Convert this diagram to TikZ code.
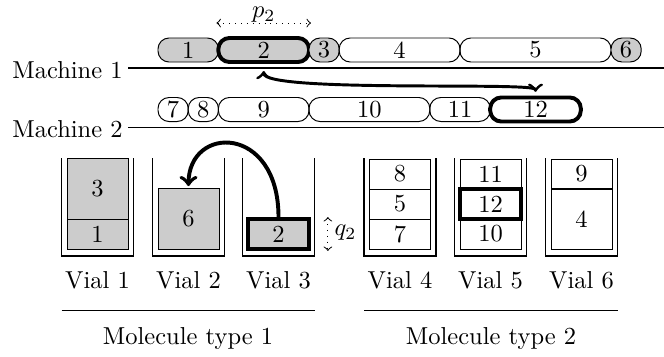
\documentclass[tikz,border=0pt]{standalone}
\usepackage{tikz, xcolor}
\usetikzlibrary{shapes,arrows}

\begin{document}
\begin{tikzpicture}[x=0.01435cm, y=-0.01435cm]
\tikzstyle{jobr}=[rectangle, rounded corners=4.5pt, draw, minimum height=9.8pt, inner sep=0pt]
\tikzstyle{jobg}=[jobr, fill=gray!40]
\tikzstyle{vialc}=[rectangle, draw, minimum width=24.9pt, inner sep=0pt]
\tikzstyle{hilite}=[ultra thick]
\tikzstyle{wallstyle}=[thick]
\tikzstyle{drawstyle}=[very thick, <->]
\tikzstyle{movestyle}=[ultra thick, ->]
\tikzstyle{dimstyle}=[dotted, <->]

\useasboundingbox (0,0) rectangle (664,356);

\node[anchor=east, inner sep=2pt] (M1) at (128,70) {Machine 1};
\coordinate (M1end) at (664,68);
\draw[thick] (M1.east |- M1end) -- (M1end);
\node[anchor=east, inner sep=2pt] (M2) at (128,129.5) {Machine 2};
\coordinate (M2end) at (664,127.5);
\draw[thick] (M2.east |- M2end) -- (M2end);

\node[jobg, minimum width=24.66pt] (J1) at (188.2,50) {1};
\node[jobg, hilite, minimum width=36.99pt] (J2) at (263.7,50) {2};
\node[jobg, minimum width=12.33pt] (J3) at (324.1,50) {3};
\node[jobr, minimum width=49.32pt] (J4) at (399.6,50) {4};
\node[jobr, minimum width=61.65pt] (J5) at (535.5,50) {5};
\node[jobg, minimum width=12.33pt] (J6) at (626.1,50) {6};
\node[jobr, minimum width=12.33pt] (J7) at (173.1,109.5) {7};
\node[jobr, minimum width=12.33pt] (J8) at (203.3,109.5) {8};
\node[jobr, minimum width=36.99pt] (J9) at (263.7,109.5) {9};
\node[jobr, minimum width=49.32pt] (J10) at (369.4,109.5) {10};
\node[jobr, minimum width=24.66pt] (J11) at (460,109.5) {11};
\node[jobr, hilite, minimum width=36.99pt] (J12) at (535.5,109.5) {12};

\node[inner sep=0pt] (P2) at (263.7,14.5) {$p_2$};
\draw[dimstyle] ([yshift=5.3pt]J2.north west) -- ([yshift=5.3pt]J2.north east);
\coordinate (J2tip) at (263.7,71);
\draw[drawstyle, shorten >=1.5pt] (J2tip) .. controls +(0,22) and +(0,-14) .. (J12.north);

\draw[wallstyle] (61.5,158) -- (61.5,256) -- (133.5,256) -- (133.5,158);
\draw[wallstyle] (152.5,158) -- (152.5,256) -- (224.5,256) -- (224.5,158);
\draw[wallstyle] (242.5,158) -- (242.5,256) -- (314.5,256) -- (314.5,158);
\draw[wallstyle] (364,158) -- (364,256) -- (436,256) -- (436,158);
\draw[wallstyle] (454.5,158) -- (454.5,256) -- (526.5,256) -- (526.5,158);
\draw[wallstyle] (545.5,158) -- (545.5,256) -- (617.5,256) -- (617.5,158);

\node[vialc, fill=gray!40, minimum height=24.5pt] (V1x2) at (97.5,189) {3};
\node[vialc, fill=gray!40, minimum height=12.25pt] (V1x1) at (97.5,234) {1};
\node[vialc, fill=gray!40, minimum height=24.5pt] (V2x1) at (188.5,219) {6};
\node[vialc, fill=gray!40, hilite, minimum height=12.25pt] (V3x1) at (278.5,234) {2};
\node[vialc, minimum height=12.25pt] (V4x3) at (400,174) {8};
\node[vialc, minimum height=12.25pt] (V4x2) at (400,204) {5};
\node[vialc, minimum height=12.25pt] (V4x1) at (400,234) {7};
\node[vialc, minimum height=12.25pt] (V5x3) at (490.5,174) {11};
\node[vialc, minimum height=12.25pt] (V5x1) at (490.5,234) {10};
\node[vialc, hilite, minimum height=12.25pt] (V5x2) at (490.5,204) {12};
\node[vialc, minimum height=12.25pt] (V6x2) at (581.5,174) {9};
\node[vialc, minimum height=24.5pt] (V6x1) at (581.5,219) {4};

\draw[movestyle, shorten >=1pt] (V3x1.north) .. controls +(0,-93) and +(0,-64) .. (V2x1.north);
\draw[dimstyle] ([xshift=6.9pt]V3x1.north east) -- ([xshift=6.9pt]V3x1.south east);
\node (Q2) at (345.5,233) {$q_2$};

\node (L1) at (97.5,280) {Vial 1};
\node (L2) at (188.5,280) {Vial 2};
\node (L3) at (278.5,280) {Vial 3};
\node (L4) at (400,280) {Vial 4};
\node (L5) at (490.5,280) {Vial 5};
\node (L6) at (581.5,280) {Vial 6};

\draw (61.5,310) -- (314.5,310);
\draw (364,310) -- (617.5,310);
\node (T1) at (188,338) {Molecule type 1};
\node (T2) at (491,338) {Molecule type 2};
\end{tikzpicture}
\end{document}
